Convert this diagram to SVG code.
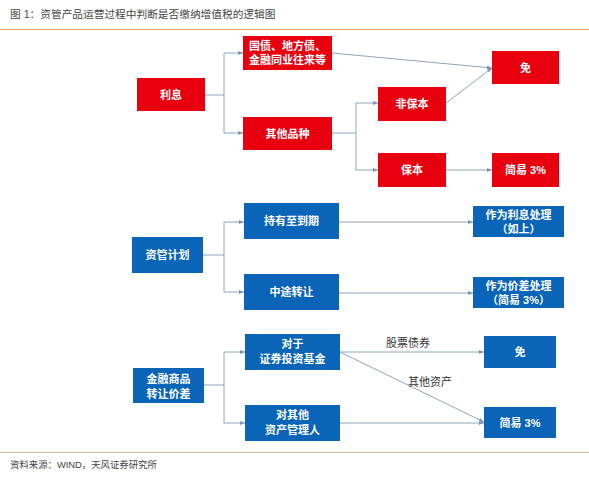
<svg xmlns="http://www.w3.org/2000/svg" width="589" height="479" viewBox="0 0 589 479">
<style>
.t{font-family:"Liberation Sans","Noto Sans CJK SC",sans-serif}
.r rect{fill:#e8000f}
.b rect{fill:#0a64b8}
.n text{font-family:"Liberation Sans","Noto Sans CJK SC",sans-serif;font-size:11px;font-weight:bold;fill:#fff;text-anchor:middle}
.c path{fill:none;stroke:#8ea4be;stroke-width:1}
.lbl{font-family:"Liberation Sans","Noto Sans CJK SC",sans-serif;font-size:11px;fill:#333;text-anchor:middle}
</style>
<defs>
<marker id="a" markerWidth="6" markerHeight="6" refX="5" refY="3" orient="auto" markerUnits="userSpaceOnUse">
<path d="M0,1 L5,3 L0,5 z" fill="#7f93ad"/>
</marker>
</defs>
<rect width="589" height="479" fill="#fff"/>
<text class="t" x="10" y="18" font-size="10.7" fill="#444">图 1：资管产品运营过程中判断是否缴纳增值税的逻辑图</text>
<line x1="0" y1="29.5" x2="589" y2="29.5" stroke="#f0a060" stroke-width="1.2"/>

<g class="c">
<path d="M205,95 H224 M224,53 V133 M224,53 H243" marker-end="url(#a)"/>
<path d="M224,133 H243" marker-end="url(#a)"/>
<path d="M332,53 L492,68" marker-end="url(#a)"/>
<path d="M332,133 H356 M356,103 V170 M356,103 H378" marker-end="url(#a)"/>
<path d="M356,170 H378" marker-end="url(#a)"/>
<path d="M446,103 L492,68" marker-end="url(#a)"/>
<path d="M446,170 H492" marker-end="url(#a)"/>
<path d="M203,255 H224 M224,222 V292 M224,222 H244" marker-end="url(#a)"/>
<path d="M224,292 H244" marker-end="url(#a)"/>
<path d="M339,222 H473" marker-end="url(#a)"/>
<path d="M339,293 H473" marker-end="url(#a)"/>
<path d="M204,385 H224 M224,352 V423 M224,352 H245" marker-end="url(#a)"/>
<path d="M224,423 H245" marker-end="url(#a)"/>
<path d="M340,352 H484" marker-end="url(#a)"/>
<path d="M340,352 L484,422" marker-end="url(#a)"/>
<path d="M340,423 H484" marker-end="url(#a)"/>
</g>
<text class="lbl" x="408" y="347">股票债券</text>
<text class="lbl" x="430" y="386">其他资产</text>

<g id="lixi" class="n r"><rect x="137" y="78" width="68" height="33"/><text x="171" y="98.5">利息</text></g>
<g id="guozhai" class="n r"><rect x="243" y="36" width="89" height="34"/><text x="287.5" y="50">国债、地方债、</text><text x="287.5" y="64">金融同业往来等</text></g>
<g id="qita" class="n r"><rect x="243" y="117" width="89" height="33"/><text x="287.5" y="137.5">其他品种</text></g>
<g id="mian1" class="n r"><rect x="492" y="51" width="67" height="33"/><text x="525.5" y="71.5">免</text></g>
<g id="feibaoben" class="n r"><rect x="378" y="87" width="68" height="34"/><text x="412" y="108">非保本</text></g>
<g id="baoben" class="n r"><rect x="378" y="153" width="68" height="34"/><text x="412" y="174">保本</text></g>
<g id="jianyi1" class="n r"><rect x="492" y="153" width="67" height="34"/><text x="525.5" y="174">简易 3%</text></g>

<g id="ziguan" class="n b"><rect x="132" y="237" width="71" height="36"/><text x="167.5" y="259">资管计划</text></g>
<g id="chiyou" class="n b"><rect x="244" y="203" width="95" height="36"/><text x="291.5" y="225">持有至到期</text></g>
<g id="zhongtu" class="n b"><rect x="244" y="274" width="95" height="36"/><text x="291.5" y="296">中途转让</text></g>
<g id="lixichuli" class="n b"><rect x="473" y="206" width="91" height="31"/><text x="518.5" y="219">作为利息处理</text><text x="518.5" y="233">（如上）</text></g>
<g id="jiachachuli" class="n b"><rect x="473" y="277" width="91" height="31"/><text x="518.5" y="290">作为价差处理</text><text x="518.5" y="304">（简易 3%）</text></g>

<g id="jinrong" class="n b"><rect x="133" y="368" width="71" height="35"/><text x="168.5" y="383">金融商品</text><text x="168.5" y="398">转让价差</text></g>
<g id="zhengquan" class="n b"><rect x="245" y="334" width="95" height="36"/><text x="292.5" y="348">对于</text><text x="292.5" y="363">证券投资基金</text></g>
<g id="qitazg" class="n b"><rect x="245" y="405" width="95" height="36"/><text x="292.5" y="419">对其他</text><text x="292.5" y="434">资产管理人</text></g>
<g id="mian2" class="n b"><rect x="484" y="336" width="72" height="32"/><text x="520" y="356">免</text></g>
<g id="jianyi2" class="n b"><rect x="484" y="407" width="72" height="31"/><text x="520" y="427">简易 3%</text></g>

<line x1="0" y1="452.5" x2="589" y2="452.5" stroke="#d8b890" stroke-width="1"/>
<text class="t" x="10" y="468" font-size="9.4" fill="#444">资料来源：WIND，天风证券研究所</text>
</svg>
